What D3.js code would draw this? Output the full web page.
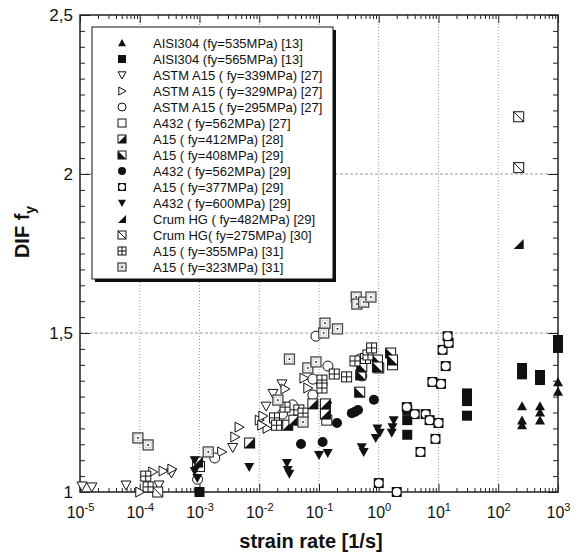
<!DOCTYPE html>
<html>
<head>
<meta charset="utf-8">
<script src="https://cdn.jsdelivr.net/npm/d3@7"></script>
<style>
  body { margin: 0; background: #fff; }
  svg { font-family: "Liberation Sans", Arial, Helvetica, sans-serif; }
</style>
</head>
<body>
<div id="chart-area"></div>
<script>
// Legend labels
const seriesNames = [
  'AISI304 (fy=535MPa) [13]',
  'AISI304 (fy=565MPa) [13]',
  'ASTM A15 ( fy=339MPa) [27]',
  'ASTM A15 ( fy=329MPa) [27]',
  'ASTM A15 ( fy=295MPa) [27]',
  'A432 ( fy=562MPa) [27]',
  'A15 ( fy=412MPa) [28]',
  'A15 ( fy=408MPa) [29]',
  'A432 ( fy=562MPa) [29]',
  'A15 ( fy=377MPa) [29]',
  'A432 ( fy=600MPa) [29]',
  'Crum HG ( fy=482MPa) [29]',
  'Crum HG( fy=275MPa) [30]',
  'A15 ( fy=355MPa) [31]',
  'A15 ( fy=323MPa) [31]'
];

// [strain rate, DIF fy]
const aisi304_535 = [[250, 1.27], [250, 1.225], [250, 1.21], [500, 1.27], [500, 1.25], [500, 1.225], [1000, 1.345], [1000, 1.315]];
const aisi304_565 = [[1e-3, 1.0], [3, 1.258], [3, 1.226], [3, 1.18], [30, 1.31], [30, 1.286], [30, 1.24],
  [250, 1.39], [250, 1.37], [500, 1.368], [500, 1.352], [1000, 1.478], [1000, 1.453]];
const astm339 = [[1.08e-5, 1.019], [1.58e-5, 1.016], [5.9e-5, 1.022], [2.1e-4, 1.022], [3.4e-4, 1.06],
  [3.6e-3, 1.14], [1.3e-2, 1.27], [1.7e-2, 1.31], [2.4e-2, 1.34], [0.135, 1.27]];
const astm329 = [[1e-4, 1.0], [1.65e-4, 1.063], [2.45e-4, 1.066], [3.45e-4, 1.072], [2.35e-3, 1.126], [3.9e-3, 1.173],
  [4.6e-3, 1.204], [1.0e-2, 1.226], [1.15e-2, 1.239], [1.35e-2, 1.2], [1.1e-2, 1.21], [2.7e-2, 1.324],
  [5.6e-2, 1.358], [6.5e-2, 1.327]];
const astm295 = [[9.3e-4, 1.04], [1.8e-3, 1.107], [2.45e-2, 1.245], [3.6e-2, 1.274], [7.9e-2, 1.355], [7.9e-2, 1.305],
  [8.9e-2, 1.49], [0.141, 1.396], [0.48, 1.418], [0.52, 1.365]];
const a432_562a = [[1.0e-3, 1.08], [1.7, 1.40], [1.0, 1.39], [0.135, 1.226]];
const a15_412 = [[9.3e-4, 1.094], [6.9e-3, 1.154], [3.0e-2, 1.21], [3.8e-2, 1.226], [7.9e-2, 1.277], [0.128, 1.277], [0.128, 1.245]];
const a15_408 = [[0.48, 1.314], [0.50, 1.368], [0.52, 1.393], [0.95, 1.415], [0.95, 1.393], [1.58, 1.437], [1.7, 1.415]];
const a432_562b = [[5.0e-2, 1.151], [0.115, 1.157], [0.20, 1.217], [0.355, 1.248], [0.40, 1.252], [0.45, 1.258], [0.83, 1.29]];
const a15_377 = [[1.0, 1.028], [2.0, 1.0], [2.95, 1.267], [4.0, 1.245], [6.1, 1.245], [7.1, 1.226], [10, 1.217],
  [8.9, 1.167], [5.0, 1.126], [7.9, 1.346], [11, 1.34], [13.2, 1.396], [11.7, 1.447], [14.8, 1.469], [14.2, 1.49]];
const a432_600 = [[8.3e-4, 1.10], [8.3e-4, 1.066], [9.2e-4, 1.044], [6.8e-3, 1.079], [2.9e-2, 1.091], [3.0e-2, 1.069],
  [3.2e-2, 1.057], [0.10, 1.116], [0.14, 1.123], [0.52, 1.141], [0.56, 1.126], [0.95, 1.2], [1.04, 1.186],
  [0.89, 1.17], [1.78, 1.226], [1.7, 1.204], [1.65, 1.186]];
const crum482 = [[220, 1.78]];
const crum275 = [[220, 2.18], [220, 2.02], [2.0e-4, 1.0]];
const a15_355 = [[1.26e-4, 1.05], [1.38e-4, 1.016], [1.8e-2, 1.233], [1.95e-2, 1.21], [2.7e-2, 1.267], [4.6e-2, 1.258],
  [5.4e-2, 1.248], [0.112, 1.352], [0.112, 1.327], [0.18, 1.371], [0.29, 1.362], [0.40, 1.412], [0.60, 1.42],
  [0.66, 1.431], [0.76, 1.453]];
const a15_323 = [[9.3e-5, 1.17], [1.38e-4, 1.148], [1.4e-3, 1.126], [2.05e-2, 1.289], [3.2e-2, 1.418], [5.4e-2, 1.22],
  [6.5e-2, 1.39], [8.9e-2, 1.409], [0.12, 1.50], [0.126, 1.531], [0.204, 1.513], [0.42, 1.613], [0.43, 1.591],
  [0.56, 1.597], [0.74, 1.613]];

const xTicks = [1e-5, 1e-4, 1e-3, 1e-2, 1e-1, 1e0, 1e1, 1e2, 1e3];
const yTicks = [1, 1.5, 2, 2.5];
const yTickLabels = ['1', '1,5', '2', '2,5'];

const seriesData = [aisi304_535, aisi304_565, astm339, astm329, astm295, a432_562a, a15_412, a15_408,
  a432_562b, a15_377, a432_600, crum482, crum275, a15_355, a15_323];
const markerTypes = ['triUp', 'square', 'triDown', 'triRight', 'circle', 'squareOpen', 'halfLR', 'halfLL',
  'circleFilled', 'squareCircle', 'triDownFilled', 'wedge', 'squareDiag', 'squarePlus', 'squareDot'];

const W = 582, H = 553;
const plot = {left: 80, right: 558, top: 15, bottom: 492};
const ink = '#111';

const svg = d3.select('#chart-area')
  .append('svg')
  .attr('width', W)
  .attr('height', H);

const x = d3.scaleLog().domain([1e-5, 1e3]).range([plot.left, plot.right]);
const y = d3.scaleLinear().domain([1, 2.5]).range([plot.bottom, plot.top]);

// grid
const grid = svg.append('g');
grid.selectAll('.vg')
  .data(xTicks.slice(1, -1))
  .enter().append('line')
  .attr('x1', d => x(d)).attr('x2', d => x(d))
  .attr('y1', plot.top).attr('y2', plot.bottom)
  .attr('stroke', '#999').attr('stroke-width', 1)
  .attr('stroke-dasharray', '1,2');
grid.selectAll('.hg')
  .data([1.5, 2])
  .enter().append('line')
  .attr('x1', plot.left).attr('x2', plot.right)
  .attr('y1', d => y(d)).attr('y2', d => y(d))
  .attr('stroke', '#999').attr('stroke-width', 1)
  .attr('stroke-dasharray', '3,2');

// minor tick values
const xMinor = [];
for (let e = -5; e < 3; e++) {
  for (let m = 2; m <= 9; m++) xMinor.push(m * Math.pow(10, e));
}
const yMinor = d3.range(1, 2.5001, 0.05).map(v => +v.toFixed(2));

function axisStyle(g) {
  g.select('.domain').remove();
  g.selectAll('line').attr('stroke', '#222').attr('stroke-width', 1);
}

// bottom axis, ticks pointing up
svg.append('g').attr('transform', `translate(0,${plot.bottom})`)
  .call(d3.axisBottom(x).tickValues(xMinor).tickSize(-4).tickFormat(''))
  .call(axisStyle);
const xAxisG = svg.append('g').attr('transform', `translate(0,${plot.bottom})`)
  .call(d3.axisBottom(x).tickValues(xTicks).tickSize(-8).tickPadding(20))
  .call(axisStyle);
xAxisG.selectAll('text')
  .attr('font-size', 16)
  .attr('fill', ink)
  .attr('y', 26)
  .attr('dy', 0)
  .text(null)
  .each(function(d) {
    const t = d3.select(this);
    t.append('tspan').text('10');
    t.append('tspan').attr('font-size', 11).attr('dy', -7).text(Math.round(Math.log10(d)));
  });

// top axis, ticks pointing down
svg.append('g').attr('transform', `translate(0,${plot.top})`)
  .call(d3.axisTop(x).tickValues(xMinor).tickSize(-4).tickFormat(''))
  .call(axisStyle);
svg.append('g').attr('transform', `translate(0,${plot.top})`)
  .call(d3.axisTop(x).tickValues(xTicks).tickSize(-8).tickFormat(''))
  .call(axisStyle);

// left axis
svg.append('g').attr('transform', `translate(${plot.left},0)`)
  .call(d3.axisLeft(y).tickValues(yMinor).tickSize(-5).tickFormat(''))
  .call(axisStyle);
svg.append('g').attr('transform', `translate(${plot.left},0)`)
  .call(d3.axisLeft(y).tickValues(yTicks).tickSize(-10).tickPadding(8)
    .tickFormat((d, i) => yTickLabels[i]))
  .call(axisStyle)
  .selectAll('text')
  .attr('x', -7)
  .attr('font-size', 17)
  .attr('fill', ink);

// right axis
svg.append('g').attr('transform', `translate(${plot.right},0)`)
  .call(d3.axisRight(y).tickValues(yMinor).tickSize(-5).tickFormat(''))
  .call(axisStyle);
svg.append('g').attr('transform', `translate(${plot.right},0)`)
  .call(d3.axisRight(y).tickValues(yTicks).tickSize(-10).tickFormat(''))
  .call(axisStyle);

// frame
svg.append('rect')
  .attr('x', plot.left).attr('y', plot.top)
  .attr('width', plot.right - plot.left).attr('height', plot.bottom - plot.top)
  .attr('fill', 'none')
  .attr('stroke', '#222')
  .attr('stroke-width', 1.5);

// axis titles
svg.append('text')
  .attr('x', 311).attr('y', 548)
  .attr('text-anchor', 'middle')
  .attr('font-size', 20)
  .attr('font-weight', 'bold')
  .attr('fill', ink)
  .text('strain rate [1/s]');

const yTitle = svg.append('text')
  .attr('transform', 'translate(29,232) rotate(-90)')
  .attr('text-anchor', 'middle')
  .attr('font-size', 20)
  .attr('font-weight', 'bold')
  .attr('fill', ink);
yTitle.append('tspan').text('DIF f');
yTitle.append('tspan').attr('font-size', 14).attr('dy', 6).text('y');

// marker shapes
function drawMarker(g, type, s) {
  const h = s / 2;
  const open = {fill: '#fff', stroke: ink, 'stroke-width': 1};
  const put = (el, attrs) => { Object.entries(attrs).forEach(([k, v]) => el.attr(k, v)); return el; };
  const box = () => put(g.append('rect').attr('x', -h).attr('y', -h).attr('width', s).attr('height', s), open);
  switch (type) {
    case 'triUp':
      g.append('path').attr('d', `M0,${-h}L${h},${h * 0.8}L${-h},${h * 0.8}Z`).attr('fill', ink);
      break;
    case 'triDownFilled':
      g.append('path').attr('d', `M0,${h}L${h},${-h * 0.8}L${-h},${-h * 0.8}Z`).attr('fill', ink);
      break;
    case 'triDown':
      put(g.append('path').attr('d', `M0,${h}L${h},${-h * 0.8}L${-h},${-h * 0.8}Z`), open);
      break;
    case 'triRight':
      put(g.append('path').attr('d', `M${h},0L${-h * 0.8},${h}L${-h * 0.8},${-h}Z`), open);
      break;
    case 'square':
      g.append('rect').attr('x', -h).attr('y', -h).attr('width', s).attr('height', s).attr('fill', ink);
      break;
    case 'squareOpen':
      box();
      break;
    case 'circle':
      put(g.append('circle').attr('r', h), open);
      break;
    case 'circleFilled':
      g.append('circle').attr('r', h).attr('fill', ink);
      break;
    case 'halfLR':
      box();
      g.append('path').attr('d', `M${-h},${h}L${h},${h}L${h},${-h}Z`).attr('fill', ink);
      break;
    case 'halfLL':
      box();
      g.append('path').attr('d', `M${-h},${-h}L${-h},${h}L${h},${h}Z`).attr('fill', ink);
      break;
    case 'squareCircle':
      g.append('rect').attr('x', -h).attr('y', -h).attr('width', s).attr('height', s).attr('fill', ink);
      g.append('circle').attr('r', h - 1.1).attr('fill', '#fff');
      break;
    case 'wedge':
      g.append('path').attr('d', `M${-h},${h}L${h},${h}L${h},${-h}Z`).attr('fill', ink);
      break;
    case 'squareDiag':
      box();
      g.append('line').attr('x1', -h).attr('y1', -h).attr('x2', h).attr('y2', h).attr('stroke', ink);
      break;
    case 'squarePlus':
      box();
      g.append('line').attr('x1', -h).attr('x2', h).attr('y1', 0).attr('y2', 0).attr('stroke', ink);
      g.append('line').attr('x1', 0).attr('x2', 0).attr('y1', -h).attr('y2', h).attr('stroke', ink);
      break;
    case 'squareDot':
      box().attr('stroke', '#444').attr('stroke-width', 1.3);
      g.append('rect').attr('x', -h + 2).attr('y', -h + 2).attr('width', s - 4).attr('height', s - 4)
        .attr('fill', 'none').attr('stroke', '#aaa').attr('stroke-width', 0.6);
      g.append('rect').attr('x', -0.8).attr('y', -0.8).attr('width', 1.6).attr('height', 1.6).attr('fill', ink);
      break;
  }
}

// points
const pts = svg.append('g');
seriesData.forEach((data, i) => {
  pts.selectAll(`.s${i}`)
    .data(data)
    .enter().append('g')
    .attr('class', `s${i}`)
    .attr('transform', d => `translate(${x(d[0])},${y(d[1])})`)
    .each(function() { drawMarker(d3.select(this), markerTypes[i], 10); });
});

// legend
const lg = svg.append('g');
lg.append('rect')
  .attr('x', 95).attr('y', 30).attr('width', 241).attr('height', 252)
  .attr('fill', ink);
lg.append('rect')
  .attr('x', 92).attr('y', 27).attr('width', 241).attr('height', 252)
  .attr('fill', '#fff').attr('stroke', ink).attr('stroke-width', 1);
seriesNames.forEach((name, i) => {
  const row = lg.append('g').attr('transform', `translate(0,${43 + i * 16})`);
  drawMarker(row.append('g').attr('transform', 'translate(122,0)'), markerTypes[i], 8);
  row.append('text')
    .attr('x', 153).attr('y', 5)
    .attr('font-size', 13)
    .attr('fill', ink)
    .text(name);
});
</script>
</body>
</html>
